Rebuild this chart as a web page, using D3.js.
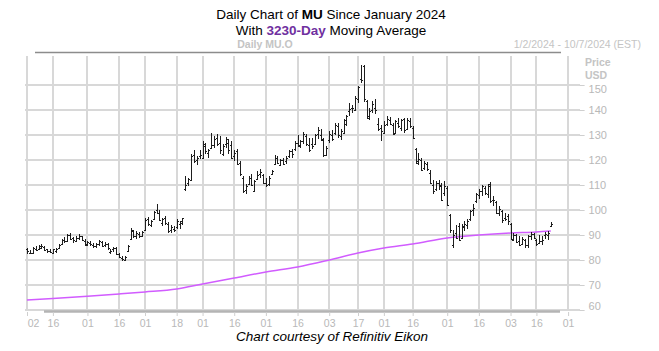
<!DOCTYPE html>
<html>
<head>
<meta charset="utf-8">
<script src="https://cdn.jsdelivr.net/npm/d3@7"></script>
<style>
  html, body { margin: 0; padding: 0; background: #fff; }
  svg { display: block; }
</style>
</head>
<body>
<div id="chart"></div>
<script>
// trading sessions of 2024, by month (day of month)
const months = ['01', '02', '03', '04', '05', '06', '07', '08', '09', '10'];
const sessionDays = [
  [2, 3, 4, 5, 8, 9, 10, 11, 12, 16, 17, 18, 19, 22, 23, 24, 25, 26, 29, 30, 31],
  [1, 2, 5, 6, 7, 8, 9, 12, 13, 14, 15, 16, 20, 21, 22, 23, 26, 27, 28, 29],
  [1, 4, 5, 6, 7, 8, 11, 12, 13, 14, 15, 18, 19, 20, 21, 22, 25, 26, 27, 28],
  [1, 2, 3, 4, 5, 8, 9, 10, 11, 12, 15, 16, 17, 18, 19, 22, 23, 24, 25, 26, 29, 30],
  [1, 2, 3, 6, 7, 8, 9, 10, 13, 14, 15, 16, 17, 20, 21, 22, 23, 24, 28, 29, 30, 31],
  [3, 4, 5, 6, 7, 10, 11, 12, 13, 14, 17, 18, 20, 21, 24, 25, 26, 27, 28],
  [1, 2, 3, 5, 8, 9, 10, 11, 12, 15, 16, 17, 18, 19, 22, 23, 24, 25, 26, 29, 30, 31],
  [1, 2, 5, 6, 7, 8, 9, 12, 13, 14, 15, 16, 19, 20, 21, 22, 23, 26, 27, 28, 29, 30],
  [3, 4, 5, 6, 9, 10, 11, 12, 13, 16, 17, 18, 19, 20, 23, 24, 25, 26, 27, 30],
  [1, 2, 3, 4, 7]
];

const tickDates = ['01-02', '01-16', '02-01', '02-16', '03-01', '03-18', '04-01', '04-16', '05-01', '05-16',
  '06-03', '06-17', '07-01', '07-16', '08-01', '08-16', '09-03', '09-16', '10-01'];

const priceTicks = [60, 70, 80, 90, 100, 110, 120, 130, 140, 150];

// daily MU bars [open, high, low, close], from Jan 2
const ohlc = [
  [84.2, 84.8, 82.5, 83.6], [83.0, 84.0, 82.3, 82.8], [83.0, 85.3, 82.8, 84.8], [84.5, 85.5, 83.5, 84.0],
  [84.3, 86.0, 84.0, 85.8], [85.0, 86.3, 84.4, 85.6], [85.3, 85.8, 83.6, 84.0], [84.2, 84.6, 82.8, 83.6],
  [83.5, 84.3, 82.9, 83.2], [83.0, 84.5, 82.5, 84.2], [83.8, 85.0, 83.0, 84.6], [84.8, 86.6, 84.3, 86.2],
  [86.4, 88.5, 86.0, 88.1], [88.2, 89.4, 87.0, 87.8], [87.6, 90.4, 87.2, 89.9], [90.0, 90.9, 88.2, 88.5],
  [88.7, 89.2, 87.0, 87.9], [87.6, 89.7, 87.2, 89.0], [88.8, 90.3, 88.0, 89.5], [89.6, 89.8, 87.6, 88.0],
  [87.6, 88.4, 85.8, 86.0],
  // Feb
  [86.5, 87.6, 85.6, 87.2], [87.0, 87.8, 85.8, 86.3], [86.0, 87.0, 85.0, 85.5], [85.8, 86.8, 84.8, 86.3],
  [86.6, 87.9, 85.6, 87.5], [87.3, 87.8, 85.4, 85.7], [86.0, 87.2, 85.3, 86.6], [86.5, 86.9, 84.2, 84.8],
  [83.2, 84.5, 82.6, 83.8], [84.2, 85.4, 83.2, 85.0], [85.0, 85.4, 82.0, 82.4], [82.5, 83.0, 80.8, 81.2],
  [81.0, 81.8, 79.6, 80.3], [80.0, 81.6, 79.8, 81.3], [83.5, 86.2, 83.2, 85.8], [88.5, 92.8, 88.2, 92.0],
  [91.5, 92.0, 89.0, 89.6], [89.5, 91.5, 88.6, 90.8], [90.5, 91.2, 88.8, 89.5], [89.8, 91.6, 89.2, 91.2],
  // Mar
  [92.0, 96.8, 91.8, 96.2], [96.5, 97.2, 93.8, 94.5], [94.0, 96.0, 93.2, 95.5], [96.5, 99.8, 96.0, 99.2],
  [100.0, 102.3, 98.5, 99.0], [99.0, 100.2, 95.8, 96.2], [95.0, 97.0, 93.6, 96.5], [96.8, 97.5, 94.0, 94.7],
  [94.5, 95.3, 91.0, 91.7], [92.0, 94.0, 90.8, 93.3], [92.5, 93.8, 91.2, 92.0], [93.0, 96.5, 92.4, 95.8],
  [94.5, 95.8, 92.3, 95.4], [95.0, 97.0, 94.0, 96.8], [108.5, 113.5, 107.5, 110.0], [111.0, 113.0, 109.5, 112.5],
  [112.0, 122.5, 111.5, 121.8], [122.0, 124.0, 118.8, 119.5], [120.0, 121.5, 118.2, 121.0], [121.5, 124.0, 120.5, 122.0],
  // Apr
  [121.0, 127.5, 120.8, 126.5], [125.5, 126.8, 122.5, 123.5], [123.0, 124.5, 121.0, 123.9], [125.0, 130.8, 124.5, 126.0],
  [126.0, 129.5, 125.0, 128.5], [129.0, 130.5, 125.5, 126.6], [127.0, 129.8, 122.5, 124.0], [122.5, 126.5, 121.8, 125.5],
  [126.5, 129.2, 125.0, 128.5], [127.0, 128.5, 122.5, 124.0], [126.0, 127.5, 120.6, 121.0], [121.5, 124.0, 119.5, 123.0],
  [123.5, 124.5, 118.0, 118.5], [119.0, 119.5, 113.8, 114.5], [113.0, 113.5, 106.8, 107.5], [108.0, 110.5, 106.5, 109.8],
  [110.5, 113.5, 110.0, 112.8], [113.0, 114.3, 109.5, 110.0], [107.5, 112.0, 107.2, 111.5], [112.5, 115.5, 112.0, 114.0],
  [114.5, 116.3, 112.8, 115.2], [114.0, 114.5, 110.5, 111.0],
  // May
  [111.0, 113.0, 109.3, 110.0], [110.5, 113.5, 109.5, 112.8], [114.5, 116.0, 114.0, 115.5], [118.5, 122.2, 118.0, 121.0],
  [121.0, 121.8, 118.5, 119.0], [118.0, 120.6, 117.5, 120.0], [120.0, 120.8, 118.0, 118.6], [119.5, 121.5, 118.5, 121.0],
  [121.5, 124.0, 120.8, 123.5], [123.5, 124.5, 121.0, 122.5], [124.5, 127.5, 123.8, 127.0], [127.0, 130.0, 125.3, 126.0],
  [125.5, 128.0, 125.0, 127.8], [127.5, 131.3, 126.5, 130.5], [129.5, 130.5, 125.8, 126.5], [126.0, 128.7, 123.3, 124.0],
  [126.5, 129.0, 124.5, 125.5], [126.5, 130.5, 126.0, 130.0], [130.5, 133.3, 128.5, 131.8], [130.0, 132.5, 127.5, 128.6],
  [128.0, 128.7, 121.3, 122.0], [122.0, 125.5, 121.8, 125.0],
  // Jun
  [128.0, 131.5, 127.0, 130.5], [130.0, 132.0, 127.5, 128.5], [131.0, 134.7, 130.0, 134.0], [133.5, 135.0, 129.0, 130.0],
  [129.5, 132.5, 128.2, 131.5], [131.0, 136.5, 130.5, 136.0], [134.5, 138.0, 133.5, 137.5], [139.5, 142.8, 137.5, 140.5],
  [141.0, 142.0, 139.0, 140.8], [140.0, 145.5, 139.8, 144.8], [144.5, 149.5, 143.0, 149.0], [152.5, 158.0, 151.0, 152.0],
  [157.5, 157.9, 143.3, 144.5], [143.5, 144.0, 136.5, 137.5], [137.0, 141.0, 136.0, 139.5], [140.0, 143.5, 139.0, 142.5],
  [141.0, 144.5, 138.5, 140.0], [134.5, 137.0, 131.5, 132.5], [133.0, 134.0, 127.5, 131.5],
  // Jul
  [131.0, 135.5, 130.5, 134.0], [134.5, 137.5, 133.5, 136.5], [136.0, 137.3, 134.0, 134.5], [134.0, 134.8, 130.0, 130.5],
  [131.0, 136.0, 130.8, 135.5], [135.0, 137.0, 133.0, 133.5], [133.0, 136.5, 131.5, 136.0], [136.5, 137.0, 131.0, 131.8],
  [132.5, 136.8, 132.0, 136.0], [135.5, 137.0, 133.0, 133.5], [133.0, 133.5, 128.5, 129.0], [124.5, 125.0, 118.5, 119.0],
  [119.5, 123.0, 118.0, 120.5], [120.0, 121.0, 115.5, 116.0], [117.0, 119.5, 116.0, 119.0], [118.5, 119.3, 115.5, 116.5],
  [115.0, 116.0, 110.5, 111.0], [110.0, 112.0, 106.5, 107.5], [108.5, 111.5, 107.5, 111.0], [111.0, 112.0, 108.0, 109.5],
  [110.0, 111.0, 103.5, 104.0], [107.0, 111.5, 105.5, 109.5],
  // Aug
  [109.0, 109.5, 101.5, 102.0], [98.0, 98.5, 91.0, 92.0], [86.0, 92.0, 84.8, 90.0], [91.0, 94.0, 88.5, 89.0],
  [93.5, 95.0, 87.5, 88.0], [89.0, 94.5, 88.5, 93.8], [93.0, 95.5, 91.5, 94.5], [94.0, 96.5, 92.5, 95.5],
  [96.5, 100.0, 95.5, 99.5], [100.0, 102.5, 97.5, 101.0], [103.5, 107.0, 103.0, 106.5], [106.0, 108.5, 104.5, 107.5],
  [107.5, 110.0, 105.5, 109.5], [109.0, 109.8, 106.0, 107.0], [106.5, 110.5, 105.0, 109.5], [110.5, 111.3, 103.0, 103.5],
  [104.0, 105.5, 101.5, 104.0], [103.0, 103.5, 98.5, 99.0], [99.0, 101.5, 97.5, 100.5], [99.5, 100.0, 95.0, 96.0],
  [97.0, 99.0, 95.5, 96.5], [97.5, 98.5, 94.0, 95.5],
  // Sep
  [94.5, 95.0, 88.0, 88.5], [88.0, 90.7, 87.5, 90.0], [90.0, 90.5, 86.8, 87.3], [87.5, 89.5, 85.5, 86.0],
  [86.5, 89.3, 86.0, 88.5], [88.0, 88.5, 85.0, 86.0], [86.0, 90.0, 84.7, 89.5], [89.5, 91.3, 88.0, 90.5],
  [90.5, 91.0, 88.5, 89.0], [88.0, 88.5, 85.8, 86.5], [87.0, 90.0, 86.5, 87.5], [87.5, 89.5, 86.0, 88.0],
  [90.0, 91.3, 88.5, 90.5], [90.0, 91.5, 88.0, 91.0], [93.8, 95.3, 93.3, 94.6]
];

// 3230-day moving average, read at these sessions
const maDates = ['01-02', '01-16', '02-01', '02-16', '03-01', '03-18', '04-01', '04-16', '05-01', '05-16',
  '06-03', '06-17', '07-01', '07-16', '08-01', '08-16', '09-03', '09-16', '09-23'];
const maValues = [64.0, 64.6, 65.5, 66.4, 67.2, 68.4, 70.4, 72.8, 75.2, 77.2,
  80.0, 82.8, 84.8, 86.4, 88.8, 90.0, 90.8, 91.2, 91.6];

const W = 659, H = 351;
const plot = { left: 27, right: 579.6, top: 52, bottom: 310 };

const dates = [];
sessionDays.forEach((days, m) => days.forEach(d => dates.push(`${months[m]}-${String(d).padStart(2, '0')}`)));

const bars = ohlc.map((r, i) => ({ date: dates[i], o: r[0], h: r[1], l: r[2], c: r[3] }));
const maData = maDates.map((d, i) => ({ date: d, v: maValues[i] }));

const x = d3.scalePoint().domain(dates).range([plot.left, plot.right]);
const y = d3.scaleLinear().domain([60, 150]).range([310, 85]);

const svg = d3.select('#chart').append('svg')
  .attr('width', W).attr('height', H)
  .style('font-family', '"Liberation Sans", Arial, sans-serif');

svg.append('rect').attr('width', W).attr('height', H).attr('fill', '#fff');

// titles
const t1 = svg.append('text').attr('x', 331).attr('y', 19).attr('text-anchor', 'middle')
  .attr('font-size', 13.5).attr('fill', '#000');
t1.append('tspan').text('Daily Chart of ');
t1.append('tspan').attr('font-weight', 'bold').text('MU');
t1.append('tspan').text(' Since January 2024');

const t2 = svg.append('text').attr('x', 331).attr('y', 35).attr('text-anchor', 'middle')
  .attr('font-size', 13.5).attr('fill', '#000');
t2.append('tspan').text('With ');
t2.append('tspan').attr('font-weight', 'bold').attr('fill', '#7030a0').text('3230-Day');
t2.append('tspan').text(' Moving Average');

svg.append('text').attr('x', 265).attr('y', 48).attr('text-anchor', 'middle')
  .attr('font-size', 10.5).attr('font-weight', 'bold').attr('fill', '#c4c4c4').text('Daily MU.O');
svg.append('text').attr('x', 641).attr('y', 48).attr('text-anchor', 'end')
  .attr('font-size', 10.5).attr('fill', '#c4c4c4').text('1/2/2024 - 10/7/2024 (EST)');

// grid
const grid = svg.append('g').attr('shape-rendering', 'crispEdges');
grid.selectAll('line.h').data(priceTicks).join('line')
  .attr('class', 'h')
  .attr('x1', 25).attr('x2', 580)
  .attr('y1', d => Math.round(y(d))).attr('y2', d => Math.round(y(d)))
  .attr('stroke', '#d8d8d8').attr('stroke-width', 2);
grid.selectAll('line.v').data(tickDates).join('line')
  .attr('class', 'v')
  .attr('x1', d => Math.round(x(d))).attr('x2', d => Math.round(x(d)))
  .attr('y1', 56).attr('y2', 310)
  .attr('stroke', '#d8d8d8').attr('stroke-width', 2);

// frame lines
svg.append('line').attr('x1', 35).attr('x2', 561).attr('y1', 52.5).attr('y2', 52.5)
  .attr('stroke', '#8c8c8c').attr('stroke-width', 1.5);
svg.append('line').attr('x1', 44).attr('x2', 560).attr('y1', 311.5).attr('y2', 311.5)
  .attr('stroke', '#b4b4b4').attr('stroke-width', 2.5);

// y axis on the right
const yAxis = svg.append('g').attr('transform', `translate(${plot.right},0)`)
  .call(d3.axisRight(y).tickValues(priceTicks).tickSize(5).tickPadding(4));
yAxis.select('.domain').remove();
yAxis.selectAll('line').attr('stroke', '#cfcfcf');
yAxis.selectAll('text')
  .attr('fill', '#b8b8b8').attr('font-size', 11)
  .attr('font-family', '"Liberation Sans", Arial, sans-serif')
  .attr('y', d => d === 150 ? 4 : (d === 60 ? -4 : 0));

svg.append('text').attr('x', 585).attr('y', 66).attr('font-size', 10.5).attr('font-weight', 'bold')
  .attr('fill', '#c4c4c4').text('Price');
svg.append('text').attr('x', 585).attr('y', 79).attr('font-size', 10.5).attr('font-weight', 'bold')
  .attr('fill', '#c4c4c4').text('USD');

// x axis
const xAxis = svg.append('g').attr('transform', 'translate(0,312)')
  .call(d3.axisBottom(x).tickValues(tickDates).tickSize(4).tickPadding(4)
    .tickFormat(d => d.slice(3)));
xAxis.select('.domain').remove();
xAxis.selectAll('line').attr('stroke', '#cfcfcf');
xAxis.selectAll('text')
  .attr('fill', '#b8b8b8').attr('font-size', 10.5)
  .attr('font-family', '"Liberation Sans", Arial, sans-serif');
xAxis.selectAll('.tick').filter(d => d === '01-02').select('text').attr('dx', 6);

// moving average
svg.append('path').datum(maData)
  .attr('fill', 'none').attr('stroke', '#d15cff').attr('stroke-width', 1.5)
  .attr('d', d3.line().x(d => x(d.date)).y(d => y(d.v)).curve(d3.curveMonotoneX));

// OHLC bars
const barG = svg.append('g').attr('stroke', '#1e1e1e').attr('stroke-width', 1)
  .attr('shape-rendering', 'crispEdges');
const bx = d => Math.round(x(d.date)) + 0.5;
barG.selectAll('line.hl').data(bars).join('line').attr('class', 'hl')
  .attr('x1', bx).attr('x2', bx)
  .attr('y1', d => y(d.h)).attr('y2', d => y(d.l));
barG.selectAll('line.op').data(bars).join('line').attr('class', 'op')
  .attr('x1', d => bx(d) - 1.5).attr('x2', bx)
  .attr('y1', d => Math.round(y(d.o)) + 0.5).attr('y2', d => Math.round(y(d.o)) + 0.5);
barG.selectAll('line.cl').data(bars).join('line').attr('class', 'cl')
  .attr('x1', bx).attr('x2', d => bx(d) + 1.5)
  .attr('y1', d => Math.round(y(d.c)) + 0.5).attr('y2', d => Math.round(y(d.c)) + 0.5);

// footer
svg.append('text').attr('x', 332).attr('y', 341).attr('text-anchor', 'middle')
  .attr('font-size', 13.5).attr('font-style', 'italic').attr('fill', '#000')
  .text('Chart courtesy of Refinitiv Eikon');
</script>
</body>
</html>
